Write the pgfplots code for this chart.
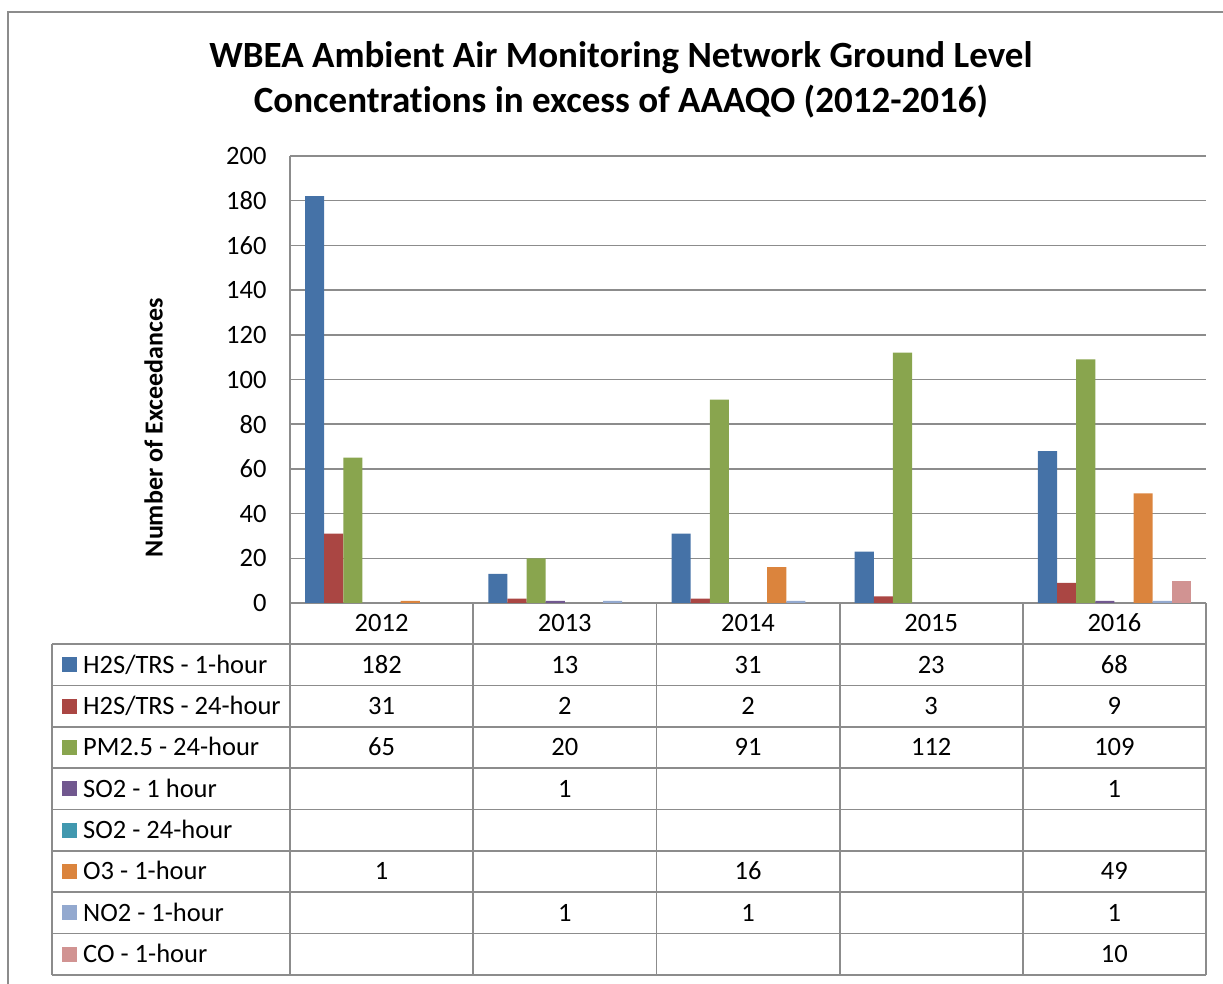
\documentclass[border=0pt]{standalone}
\usepackage{pgfplots}
\pgfplotsset{compat=1.18}
\usepackage{fontspec}
\setmainfont{Carlito}[Ligatures={NoCommon}]
\definecolor{s1}{HTML}{4572A7}
\definecolor{s2}{HTML}{AA4643}
\definecolor{s3}{HTML}{89A54E}
\definecolor{s4}{HTML}{71588F}
\definecolor{s5}{HTML}{4198AF}
\definecolor{s6}{HTML}{DB843D}
\definecolor{s7}{HTML}{93A9CF}
\definecolor{s8}{HTML}{D19392}
\definecolor{gridc}{HTML}{8C8C8C}
\begin{document}
\begin{tikzpicture}[x=1pt,y=1pt]
\useasboundingbox (0,0) rectangle (1223,983);
\draw[gridc, line width=1.5pt] (8,-5) -- (8,971) -- (1230,971);
\node[font=\fontsize{37}{44}\selectfont\bfseries, anchor=base] at (621,915) {WBEA Ambient Air Monitoring Network Ground Level};
\node[font=\fontsize{37}{44}\selectfont\bfseries, anchor=base] at (621,870) {Concentrations in excess of AAAQO (2012-2016)};
\begin{axis}[
  at={(290pt,380pt)}, anchor=south west,
  scale only axis, width=916pt, height=447pt,
  xmin=-0.5, xmax=4.5, ymin=0, ymax=200,
  ytick={0,20,...,200},
  xtick={0,1,2,3,4}, xticklabels={2012,2013,2014,2015,2016},
  major tick length=0pt,
  axis lines*=left,
  axis line style={gridc, line width=1.5pt},
  ymajorgrids, major grid style={gridc, line width=1.5pt},
  /pgf/number format/assume math mode=true,
  tick label style={font=\fontsize{26.5}{31}\selectfont},
  yticklabel style={xshift=-20pt},
  xticklabel style={anchor=base, yshift=-28.5pt},
  every axis y label/.style={at={(axis description cs:-0.149,0.392)}, rotate=90, anchor=center},
  ylabel={\fontsize{26}{31}\selectfont\bfseries Number of Exceedances},
  ybar, bar width=0.1044,
  clip=false,
]
\addplot[fill=s1, draw=none, bar shift=-0.3654] coordinates {(0,182) (1,13) (2,31) (3,23) (4,68)};
\addplot[fill=s2, draw=none, bar shift=-0.2610] coordinates {(0,31) (1,2) (2,2) (3,3) (4,9)};
\addplot[fill=s3, draw=none, bar shift=-0.1566] coordinates {(0,65) (1,20) (2,91) (3,112) (4,109)};
\addplot[fill=s4, draw=none, bar shift=-0.0522] coordinates {(1,1) (4,1)};
% SO2 - 24-hour: no exceedances (bar shift 0.0522)
\addplot[fill=s6, draw=none, bar shift=0.1566] coordinates {(0,1) (2,16) (4,49)};
\addplot[fill=s7, draw=none, bar shift=0.2610] coordinates {(1,1) (2,1) (4,1)};
\addplot[fill=s8, draw=none, bar shift=0.3654] coordinates {(4,10)};
\end{axis}
% data table
\begin{scope}[gridc, line width=1.8pt]
\foreach \k in {1,...,9} {\draw (52,{380-41.3*\k}) -- (1206,{380-41.3*\k});}
\draw (52,{380-41.3}) -- (52,{380-41.3*9});
\foreach \xx in {290,473.2,656.4,839.6,1022.8,1206} {\draw (\xx,380) -- (\xx,{380-41.3*9});}
\end{scope}
\begin{scope}[every node/.style={font=\fontsize{26.5}{31}\selectfont, anchor=base, inner sep=0pt}]
\foreach \k/\c/\lab/\a/\b/\cc/\d/\e in {
  1/s1/{H2S/TRS - 1-hour}/182/13/31/23/68,
  2/s2/{H2S/TRS - 24-hour}/31/2/2/3/9,
  3/s3/{PM2.5 - 24-hour}/65/20/91/112/109,
  4/s4/{SO2 - 1 hour}//1///1,
  5/s5/{SO2 - 24-hour}/////,
  6/s6/{O3 - 1-hour}/1//16//49,
  7/s7/{NO2 - 1-hour}//1/1//1,
  8/s8/{CO - 1-hour}/////10} {
  \pgfmathsetmacro{\yc}{380-41.3*\k-20.65}
  \fill[\c] (62,\yc-7.5) rectangle (77,\yc+7.5);
  \node[anchor=base west] at (83,\yc-8.3) {\lab};
  \node at (381.6,\yc-8.3) {\a};
  \node at (564.8,\yc-8.3) {\b};
  \node at (748,\yc-8.3) {\cc};
  \node at (931.2,\yc-8.3) {\d};
  \node at (1114.4,\yc-8.3) {\e};
}
\end{scope}
\end{tikzpicture}
\end{document}
